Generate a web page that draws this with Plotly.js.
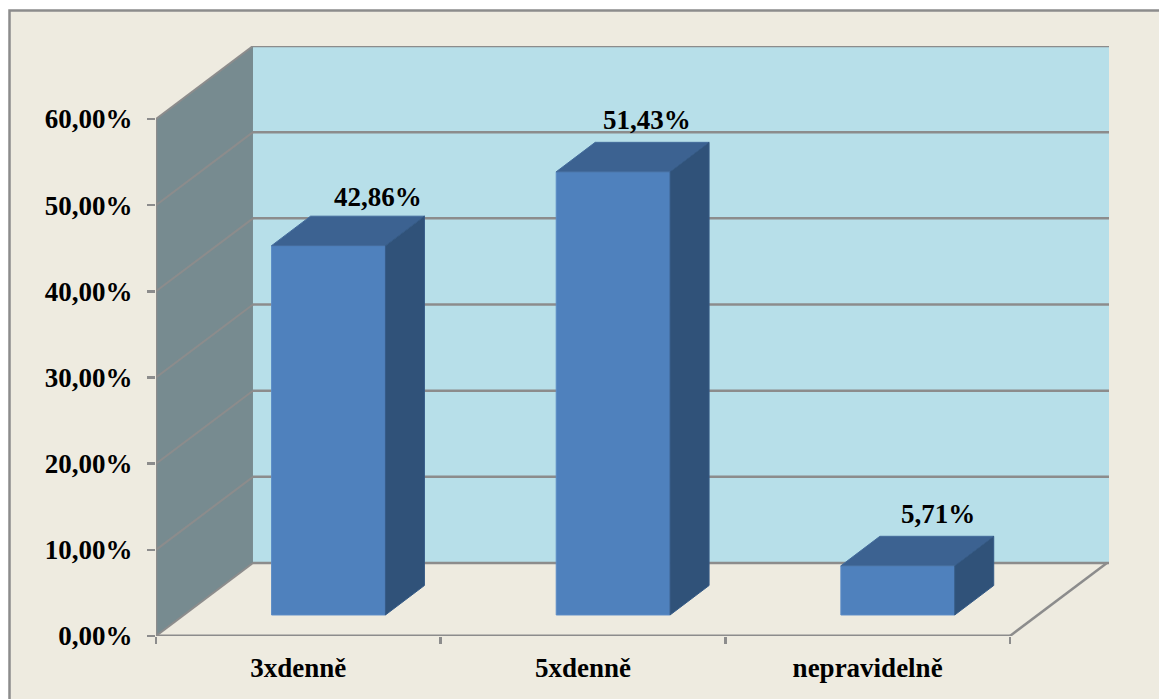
<!DOCTYPE html>
<html>
<head>
<meta charset="utf-8">
<script src="https://cdn.plot.ly/plotly-3.0.1.min.js"></script>
<style>html,body{margin:0;padding:0;background:#fff;overflow:hidden}</style>
</head>
<body>
<div id="chart" style="width:1159px;height:699px"></div>
<script>
// Share of respondents by meal frequency
const categories = ['3xdenně', '5xdenně', 'nepravidelně'];
const shares = [42.86, 51.43, 5.71];
const yTicks = [0, 10, 20, 30, 40, 50, 60];
const xBoundaries = [-0.5, 0.5, 1.5, 2.5];

// Oblique projection, in axis units
const wallDx = 0.3407, wallDy = 8.47;      // depth of the chart box
const barDx = 0.137, barDy = 3.42;         // depth of a column
const barHalf = 0.2, barShift = 0.106, barBase = 2.44;
const xMin = -0.5, xMax = 2.848, yMin = 0, yMax = 68.47, yTop = 60;
const xEnd = 2.5;

const GREY = '#8c8c8c';
const serif = {family: '"Liberation Serif", "Times New Roman", serif', size: 27, color: '#000'};

const poly = (pts) => 'M' + pts.map(p => p.join(',')).join('L') + 'Z';
const seg = (x0, y0, x1, y1, width, color) => ({
  type: 'line', xref: 'x', yref: 'y', x0, y0, x1, y1, layer: 'below',
  line: {color: color || GREY, width: width || 2}
});

const shapes = [
  // Chart frame, open past the right and bottom page edges
  {type: 'rect', xref: 'paper', yref: 'paper', layer: 'below',
   x0: (9.5 - 156) / 953, x1: (1170 - 156) / 953,
   y0: (636 - 710) / 590, y1: (636 - 10.5) / 590,
   fillcolor: '#eeebe0', line: {color: GREY, width: 2.5}},
  // Back wall
  {type: 'rect', xref: 'x', yref: 'y', layer: 'below',
   x0: xMin + wallDx, x1: xMax, y0: wallDy, y1: yMax,
   fillcolor: '#b7dfe9', line: {width: 0}},
  // Side wall
  {type: 'path', xref: 'x', yref: 'y', layer: 'below',
   path: poly([[xMin, 0], [xMin + wallDx, wallDy], [xMin + wallDx, yTop + wallDy], [xMin, yTop]]),
   fillcolor: '#778b90', line: {width: 0}},
];
// Gridlines across both walls
yTicks.forEach(v => {
  shapes.push(seg(xMin + wallDx, v + wallDy, xMax, v + wallDy, 2.5));
  shapes.push(seg(xMin, v, xMin + wallDx, v + wallDy, 2));
});
// Floor and axis edges
shapes.push(seg(xMin, 0, xMin, yTop, 2.5));
shapes.push(seg(xMin, 0, xEnd, 0, 3));
shapes.push(seg(xEnd, 0, xEnd + wallDx, wallDy, 2.5));

const xs = categories.map((_, i) => i + barShift);

// Front faces of the columns
const front = {
  type: 'bar', x: xs, y: shares, base: barBase, width: 2 * barHalf,
  marker: {color: '#4f81bd', line: {color: '#5b8cc6', width: 1}},
  hoverinfo: 'skip', showlegend: false
};

// Top and right faces derived from each column's value
const faces = [];
shares.forEach((v, i) => {
  const l = xs[i] - barHalf, r = xs[i] + barHalf, b = barBase, t = barBase + v;
  faces.push({
    type: 'scatter', mode: 'lines', fill: 'toself', fillcolor: '#3c6291',
    x: [l, r, r + barDx, l + barDx, l], y: [t, t, t + barDy, t + barDy, t],
    line: {color: '#446c9c', width: 1}, hoverinfo: 'skip', showlegend: false
  });
  faces.push({
    type: 'scatter', mode: 'lines', fill: 'toself', fillcolor: '#305279',
    x: [r, r + barDx, r + barDx, r, r], y: [b, b + barDy, t + barDy, t, b],
    line: {color: '#355a86', width: 1}, hoverinfo: 'skip', showlegend: false
  });
});

// Value labels sit behind and above each column
const labelShiftX = [49.5, 33.5, 40.5];
const labelShiftY = [48.5, 52, 52];
const annotations = shares.map((v, i) => ({
  xref: 'x', yref: 'y', x: xs[i], y: barBase + v,
  xshift: labelShiftX[i], yshift: labelShiftY[i],
  xanchor: 'center', yanchor: 'middle', showarrow: false,
  text: '<b>' + v.toFixed(2).replace('.', ',') + '%</b>', font: serif
}));

const layout = {
  width: 1159, height: 699,
  margin: {l: 156, r: 50, t: 46, b: 63, pad: 0},
  paper_bgcolor: '#ffffff', plot_bgcolor: 'rgba(0,0,0,0)',
  separators: ',.', showlegend: false, barmode: 'overlay',
  shapes, annotations,
  font: serif,
  xaxis: {
    range: [xMin, xMax], tickmode: 'array', tickvals: [0, 1, 2],
    ticktext: categories.map(c => '<b>' + c + '</b>'),
    showgrid: false, zeroline: false, showline: false,
    ticks: 'outside', ticklen: 0, tickfont: serif, ticklabelstandoff: 8,
    minor: {tickmode: 'array', tickvals: xBoundaries, ticks: 'outside', ticklen: 7,
            tickwidth: 2.5, tickcolor: GREY, showgrid: false}
  },
  yaxis: {
    range: [yMin, yMax], tickmode: 'array', tickvals: yTicks,
    ticktext: yTicks.map(v => '<b>' + v.toFixed(2).replace('.', ',') + '%</b>'),
    showgrid: false, zeroline: false, showline: false,
    ticks: 'outside', ticklen: 8, tickwidth: 2.5, tickcolor: GREY,
    tickfont: serif, ticklabelstandoff: 9
  }
};

Plotly.newPlot('chart', [front].concat(faces), layout, {displayModeBar: false, staticPlot: true});
</script>
</body>
</html>
